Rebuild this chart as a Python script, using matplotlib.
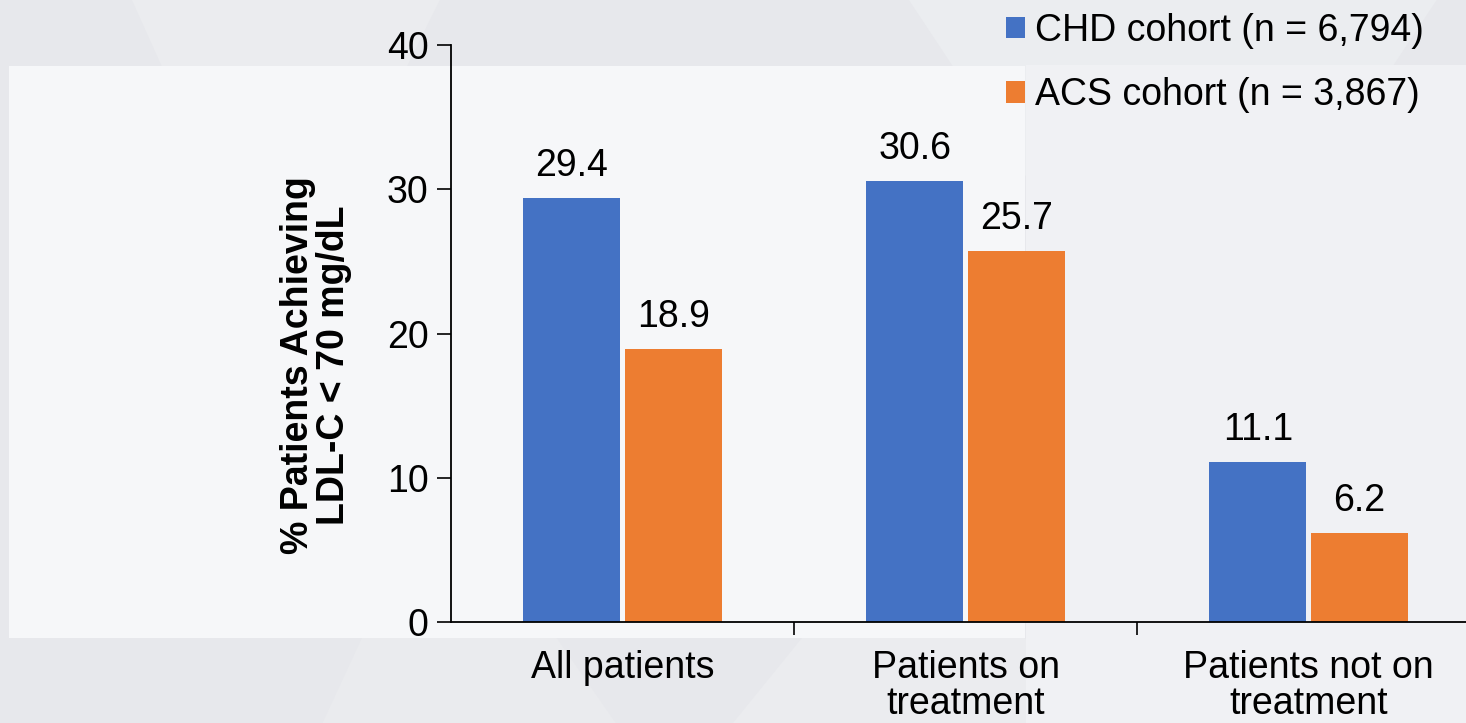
import numpy as np
import matplotlib.pyplot as plt
from matplotlib.patches import Rectangle, Polygon

plt.rcParams['font.family'] = ['Liberation Sans', 'DejaVu Sans']

categories = ['All patients', 'Patients on\ntreatment', 'Patients not on\ntreatment']
chd = [29.4, 30.6, 11.1]
acs = [18.9, 25.7, 6.2]
series_names = ['CHD cohort (n = 6,794)', 'ACS cohort (n = 3,867)']
colors = ['#4472C4', '#ED7D31']
FS = 27

W, H = 1466, 723
fig = plt.figure(figsize=(W / 100, H / 100), dpi=100, facecolor='#e7e8ec')

# faint slide backdrop shapes, kept behind the axes
for pts, c in [
    ([(0.09, 1.0), (0.30, 1.0), (0.19, 0.55)], '#ebecef'),
    ([(0.62, 1.0), (0.98, 1.0), (0.80, 0.45)], '#ebedf0'),
    ([(0.22, 0.0), (0.42, 0.0), (0.30, 0.35)], '#eaebee'),
    ([(0.50, 0.0), (0.75, 0.0), (0.62, 0.30)], '#ebecef'),
    ([(0.70, 0.91), (1.0, 0.91), (1.0, 0.0), (0.70, 0.0)], '#f0f1f4'),
]:
    fig.patches.append(Polygon(pts, closed=True, transform=fig.transFigure,
                               facecolor=c, edgecolor='none', zorder=-5))

# lighter panel behind the plot
fig.patches.append(Rectangle((9 / W, 1 - 638 / H), (1025 - 9) / W, (638 - 66) / H,
                             transform=fig.transFigure, facecolor='#f6f7f9',
                             edgecolor='none', zorder=-4))

# axes: y-axis at x=451, value 0 at y=622, value 40 at y=45; 3 categories of 343 px
left, right = 451, 451 + 3 * 343
bottom, top = 622, 45
ax = fig.add_axes([left / W, 1 - bottom / H, (right - left) / W, (bottom - top) / H])
ax.set_facecolor('none')

x = np.arange(len(categories))
bw = 0.283
gap = 0.006
b1 = ax.bar(x - bw / 2 - gap, chd, bw, color=colors[0], label=series_names[0], zorder=2)
b2 = ax.bar(x + bw / 2 + gap, acs, bw, color=colors[1], label=series_names[1], zorder=2)

for bars, vals in [(b1, chd), (b2, acs)]:
    for r, v in zip(bars, vals):
        ax.annotate(f'{v:.1f}', (r.get_x() + r.get_width() / 2, v),
                    xytext=(0, 10), textcoords='offset points',
                    ha='center', va='bottom', fontsize=FS)

ax.set_xlim(-0.5, len(categories) - 0.5)
ax.set_ylim(0, 40)
ax.set_yticks([0, 10, 20, 30, 40])
ax.tick_params(axis='y', labelsize=FS, length=10, width=1.2, pad=6)
ax.set_xticks(x)
ax.set_xticklabels(categories, fontsize=FS, linespacing=1.0)
ax.tick_params(axis='x', length=0, pad=20)
ax.set_xticks([0.5, 1.5, 2.5], minor=True)
ax.tick_params(axis='x', which='minor', length=9, width=1.2)

for s in ['top', 'right']:
    ax.spines[s].set_visible(False)
for s in ['left', 'bottom']:
    ax.spines[s].set_linewidth(1.3)

ax.set_ylabel('% Patients Achieving\nLDL-C < 70 mg/dL', fontsize=FS,
              fontweight='bold', linespacing=1.0)
ax.yaxis.set_label_coords(-0.096, 0.445)

leg = fig.legend(loc='upper left', bbox_to_anchor=(1006 / W, 1 - 13 / H),
                 frameon=False, fontsize=FS, handlelength=0.5, handleheight=0.5,
                 handletextpad=0.28, labelspacing=0.75, borderaxespad=0,
                 borderpad=0)

fig.savefig('out.png', dpi=100, facecolor=fig.get_facecolor())
